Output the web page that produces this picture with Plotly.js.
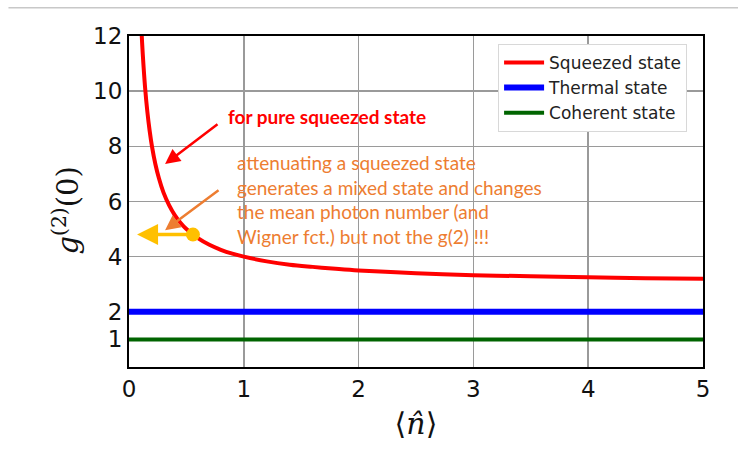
<!DOCTYPE html>
<html>
<head>
<meta charset="utf-8">
<script src="https://cdn.plot.ly/plotly-3.0.1.min.js"></script>
<style>html,body{margin:0;padding:0;background:#fff;}#chart{width:738px;height:454px;}</style>
</head>
<body>
<div id="chart"></div>
<script>
// Mean photon number <n> and g2(0)
const nSqueezed = [0.09, 0.1, 0.11, 0.12, 0.14, 0.16, 0.18, 0.2, 0.23, 0.26, 0.3, 0.35, 0.4, 0.45, 0.5, 0.6, 0.7, 0.8, 0.9, 1.0, 1.2, 1.4, 1.6, 1.8, 2.0, 2.5, 3.0, 3.5, 4.0, 4.5, 5.0];
const g2Squeezed = [14.1, 13.0, 12.09, 11.33, 10.14, 9.25, 8.56, 8.0, 7.35, 6.85, 6.33, 5.86, 5.5, 5.22, 5.0, 4.67, 4.43, 4.25, 4.11, 4.0, 3.83, 3.71, 3.63, 3.56, 3.5, 3.4, 3.33, 3.29, 3.25, 3.22, 3.2];
const nThermal = [0, 5];
const g2Thermal = [2, 2];
const nCoherent = [0, 5];
const g2Coherent = [1, 1];
const nAttenuated = [0.557];
const g2Attenuated = [4.8];
const xTicks = [0, 1, 2, 3, 4, 5];
const yTicks = [1, 2, 4, 6, 8, 10, 12];
const seriesNames = ['Squeezed state', 'Thermal state', 'Coherent state'];

const traces = [
  {x: nSqueezed, y: g2Squeezed, mode: 'lines', name: seriesNames[0], line: {color: '#ff0000', width: 4, shape: 'spline'}},
  {x: nThermal, y: g2Thermal, mode: 'lines', name: seriesNames[1], line: {color: '#0000ff', width: 6}},
  {x: nCoherent, y: g2Coherent, mode: 'lines', name: seriesNames[2], line: {color: '#006400', width: 4}},
  {x: nAttenuated, y: g2Attenuated, mode: 'markers', showlegend: false, marker: {color: '#FFC000', size: 14}, cliponaxis: false}
];

const orange = '#ED7D31';
const layout = {
  width: 738, height: 454,
  margin: {l: 129, r: 35, t: 36, b: 87},
  paper_bgcolor: '#fff', plot_bgcolor: '#fff',
  showlegend: true,
  legend: {x: 0.643, y: 0.976, xanchor: 'left', yanchor: 'top', bgcolor: '#fff', bordercolor: '#d8d8d8', borderwidth: 1,
           itemwidth: 40, font: {family: 'DejaVu Sans', size: 17, color: '#222'}},
  xaxis: {range: [0, 5], tickvals: xTicks, ticktext: xTicks.map(String), showgrid: true, gridcolor: '#9a9a9a', gridwidth: 1.5,
          showline: true, mirror: true, linecolor: '#000', linewidth: 2, zeroline: false, ticks: '',
          tickfont: {family: 'DejaVu Sans', size: 23, color: '#111'},
          title: {text: '⟨<i>n̂</i>⟩', font: {family: 'DejaVu Serif', size: 30, color: '#111'}, standoff: 12}},
  yaxis: {range: [0, 12], tickvals: yTicks, ticktext: yTicks.map(String), showgrid: true, gridcolor: '#9a9a9a', gridwidth: 1.5,
          showline: true, mirror: true, linecolor: '#000', linewidth: 2, zeroline: false, ticks: '',
          tickfont: {family: 'DejaVu Sans', size: 23, color: '#111'}},
  shapes: [
    {type: 'line', xref: 'paper', yref: 'paper', x0: -0.21, x1: 1.07, y0: 1.085, y1: 1.085, line: {color: '#c8c8c8', width: 1.5}}
  ],
  annotations: [
    {x: -0.109, y: 0.474, xref: 'paper', yref: 'paper', xanchor: 'center', yanchor: 'middle', showarrow: false, textangle: -90,
     text: '<i>g</i><sup>(2)</sup>(0)', font: {family: 'DejaVu Serif', size: 29, color: '#111'}},
    {x: 0.845, y: 9.09, xref: 'x', yref: 'y', xanchor: 'left', yanchor: 'middle', showarrow: false,
     text: '<b>for pure squeezed state</b>', font: {family: 'Lato', size: 19, color: '#ff0000'}},
    {x: 0.92, y: 6.09, xref: 'x', yref: 'y', xanchor: 'left', yanchor: 'middle', align: 'left', showarrow: false,
     text: 'attenuating a squeezed state<br>generates a mixed state and changes<br>the mean photon number (and<br>Wigner fct.) but not the g(2) !!!',
     font: {family: 'Lato', size: 19, color: orange}},
    {x: 0.314, y: 7.36, ax: 0.784, ay: 8.84, xref: 'x', yref: 'y', axref: 'x', ayref: 'y', text: '', showarrow: true,
     arrowhead: 2, arrowsize: 1.2, arrowwidth: 2.5, arrowcolor: '#ff0000'},
    {x: 0.314, y: 4.96, ax: 0.793, ay: 6.45, xref: 'x', yref: 'y', axref: 'x', ayref: 'y', text: '', showarrow: true,
     arrowhead: 2, arrowsize: 1.2, arrowwidth: 2.5, arrowcolor: orange},
    {x: 0.07, y: 4.8, ax: 0.557, ay: 4.8, xref: 'x', yref: 'y', axref: 'x', ayref: 'y', text: '', showarrow: true,
     arrowhead: 2, arrowsize: 1.2, arrowwidth: 3.5, arrowcolor: '#FFC000'}
  ]
};

Plotly.newPlot('chart', traces, layout, {displayModeBar: false, staticPlot: true});
</script>
</body>
</html>
